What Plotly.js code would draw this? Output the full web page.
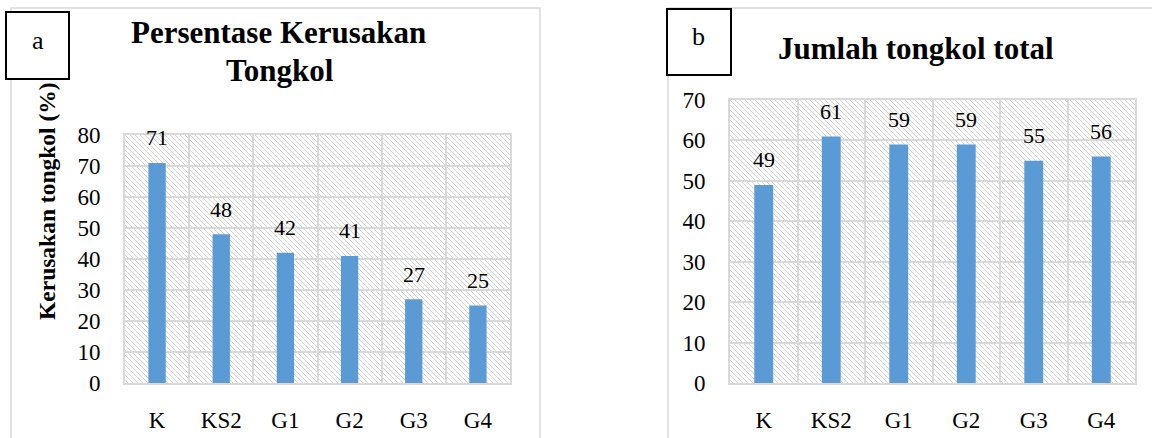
<!DOCTYPE html>
<html><head><meta charset="utf-8">
<script src="https://cdn.plot.ly/plotly-3.0.1.min.js"></script>
<style>html,body{margin:0;padding:0;background:#fff}#chart{width:1152px;height:438px}</style>
</head><body><div id="chart"></div>
<script>
// ---- data ----
const categories = ['K', 'KS2', 'G1', 'G2', 'G3', 'G4'];
const damagePercent = [71, 48, 42, 41, 27, 25];
const totalCobs = [49, 61, 59, 59, 55, 56];
const titleA = ['Persentase Kerusakan', 'Tongkol'];
const titleB = 'Jumlah tongkol total';
const yTitleA = 'Kerusakan tongkol (%)';
const panelLabels = ['a', 'b'];
const rangeA = [0, 80];
const rangeB = [0, 70];

// ---- layout helpers ----
const W = 1152, H = 438;
const px = x => x / W, py = y => 1 - y / H;
const FONT = '"Liberation Serif", "Times New Roman", Times, serif';
const BLUE = '#5b9bd5', GRID = '#d9d9d9';
const A = {l: 125, r: 510, t: 135, b: 383};
const B = {l: 730, r: 1135, t: 100, b: 383};

function hatch(w, h) {
  const s = 5;
  const svg = '<svg xmlns="http://www.w3.org/2000/svg" width="' + w + '" height="' + h + '" viewBox="0 0 ' + w + ' ' + h + '" preserveAspectRatio="none">' +
    '<defs><pattern id="p" patternUnits="userSpaceOnUse" width="' + s + '" height="' + s + '">' +
    '<path d="M0,0 L' + s + ',' + s + ' M-1,' + (s - 1) + ' L1,' + (s + 1) + ' M' + (s - 1) + ',-1 L' + (s + 1) + ',1" stroke="#cfcfcf" stroke-width="0.9" fill="none"/>' +
    '</pattern></defs><rect width="100%" height="100%" fill="#ffffff"/><rect width="100%" height="100%" fill="url(#p)"/></svg>';
  return 'data:image/svg+xml;charset=utf-8,' + encodeURIComponent(svg);
}

const tickFont = {family: FONT, size: 23, color: '#000'};
const valueFont = {family: FONT, size: 22, color: '#000'};

const traces = [
  {type: 'bar', x: categories, y: damagePercent, xaxis: 'x', yaxis: 'y', width: 0.27,
   marker: {color: BLUE}, hoverinfo: 'skip', showlegend: false},
  {type: 'bar', x: categories, y: totalCobs, xaxis: 'x2', yaxis: 'y2', width: 0.28,
   marker: {color: BLUE}, hoverinfo: 'skip', showlegend: false}
];

function xAx(area, anchor) {
  return {domain: [px(area.l), px(area.r)], anchor: anchor, type: 'category',
    tickson: 'boundaries', showgrid: true, gridcolor: GRID, gridwidth: 2,
    showline: true, mirror: true, linecolor: GRID, linewidth: 2, ticks: '',
    tickfont: tickFont, ticklabelstandoff: 15, fixedrange: true};
}
function yAx(area, anchor, range) {
  return {domain: [py(area.b), py(area.t)], anchor: anchor, range: range, dtick: 10, tick0: 0,
    showgrid: true, gridcolor: GRID, gridwidth: 2, zeroline: false,
    showline: true, mirror: true, linecolor: GRID, linewidth: 2, ticks: '',
    tickfont: tickFont, ticklabelstandoff: 18, fixedrange: true};
}

const annotations = [];
categories.forEach((c, i) => {
  annotations.push({xref: 'x', yref: 'y', x: c, y: damagePercent[i], text: String(damagePercent[i]),
    showarrow: false, yanchor: 'middle', yshift: 25, font: valueFont});
  annotations.push({xref: 'x2', yref: 'y2', x: c, y: totalCobs[i], text: String(totalCobs[i]),
    showarrow: false, yanchor: 'middle', yshift: 25, font: valueFont});
});
const titleFont = {family: FONT, size: 31, color: '#000', weight: 'bold'};
annotations.push({xref: 'paper', yref: 'paper', x: px(278), y: py(33), text: '<b>' + titleA[0] + '</b>',
  showarrow: false, xanchor: 'center', yanchor: 'middle', font: titleFont});
annotations.push({xref: 'paper', yref: 'paper', x: px(280), y: py(70), text: '<b>' + titleA[1] + '</b>',
  showarrow: false, xanchor: 'center', yanchor: 'middle', font: titleFont});
annotations.push({xref: 'paper', yref: 'paper', x: px(916), y: py(49), text: '<b>' + titleB + '</b>',
  showarrow: false, xanchor: 'center', yanchor: 'middle', font: titleFont});
annotations.push({xref: 'paper', yref: 'paper', x: px(47), y: py(201), text: '<b>' + yTitleA + '</b>',
  showarrow: false, textangle: -90, xanchor: 'center', yanchor: 'middle',
  font: {family: FONT, size: 23.5, color: '#000'}});
annotations.push({xref: 'paper', yref: 'paper', x: px(37.5), y: py(40), text: panelLabels[0],
  showarrow: false, xanchor: 'center', yanchor: 'middle', font: {family: FONT, size: 26, color: '#000'}});
annotations.push({xref: 'paper', yref: 'paper', x: px(698.5), y: py(37), text: panelLabels[1],
  showarrow: false, xanchor: 'center', yanchor: 'middle', font: {family: FONT, size: 26, color: '#000'}});

const shapes = [
  // outer chart borders
  {type: 'rect', xref: 'paper', yref: 'paper', x0: px(11), x1: px(540), y0: py(8), y1: py(460),
   line: {color: GRID, width: 1.5}, layer: 'below'},
  {type: 'rect', xref: 'paper', yref: 'paper', x0: px(668), x1: px(1170), y0: py(8), y1: py(460),
   line: {color: GRID, width: 1.5}, layer: 'below'},
  // panel label boxes
  {type: 'rect', xref: 'paper', yref: 'paper', x0: px(6), x1: px(69), y0: py(12), y1: py(79),
   line: {color: '#000', width: 2}, fillcolor: '#fff', layer: 'above'},
  {type: 'rect', xref: 'paper', yref: 'paper', x0: px(667), x1: px(731), y0: py(9), y1: py(75),
   line: {color: '#000', width: 2}, fillcolor: '#fff', layer: 'above'}
];

const images = [
  {source: hatch(A.r - A.l, A.b - A.t), xref: 'x domain', yref: 'y domain', x: 0, y: 1,
   sizex: 1, sizey: 1, xanchor: 'left', yanchor: 'top', sizing: 'stretch', layer: 'below'},
  {source: hatch(B.r - B.l, B.b - B.t), xref: 'x2 domain', yref: 'y2 domain', x: 0, y: 1,
   sizex: 1, sizey: 1, xanchor: 'left', yanchor: 'top', sizing: 'stretch', layer: 'below'}
];

const layout = {
  width: W, height: H, margin: {l: 0, r: 0, t: 0, b: 0},
  paper_bgcolor: '#fff', plot_bgcolor: 'rgba(0,0,0,0)',
  font: {family: FONT, color: '#000'},
  showlegend: false,
  xaxis: xAx(A, 'y'), yaxis: yAx(A, 'x', rangeA),
  xaxis2: xAx(B, 'y2'), yaxis2: yAx(B, 'x2', rangeB),
  annotations: annotations, shapes: shapes, images: images
};

Plotly.newPlot('chart', traces, layout, {displayModeBar: false, staticPlot: true});
</script></body></html>
